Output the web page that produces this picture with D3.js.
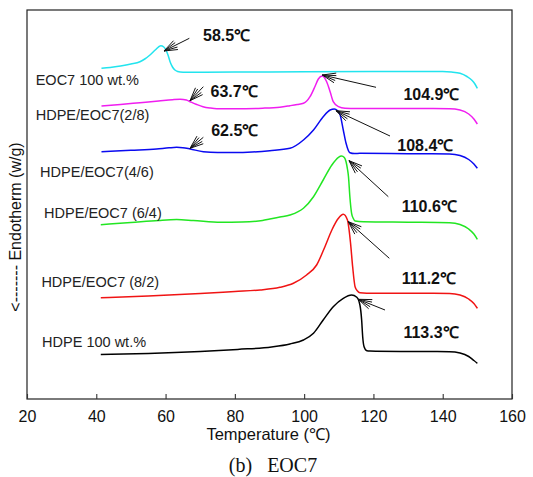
<!DOCTYPE html>
<html>
<head>
<meta charset="utf-8">
<script src="https://cdn.jsdelivr.net/npm/d3@7"></script>
<style>
  html, body { margin: 0; padding: 0; background: #fff; }
  svg { display: block; }
</style>
</head>
<body>
<div id="chart"></div>
<script>
// ---------------- DATA ----------------
const xTicks = [20, 40, 60, 80, 100, 120, 140, 160];
const xTitle = "Temperature (\u2103)";
const yTitle = "<------- Endotherm (w/g)";
const caption = "(b)   EOC7";

const seriesNames = ["EOC7 100 wt.%", "HDPE/EOC7(2/8)", "HDPE/EOC7(4/6)", "HDPE/EOC7 (6/4)", "HDPE/EOC7 (8/2)", "HDPE 100 wt.%"];
const seriesColors = ["#22e4ee", "#f01ef0", "#0a0af0", "#22e622", "#f01414", "#000000"];

// heat flow in arbitrary (offset) units
const eoc7Temp = [41.5, 44, 47, 50, 52.6, 54, 55.5, 57, 58.6, 59.5, 60.1, 60.7, 61.3, 62, 62.7, 63.5, 64.2, 66, 80, 100, 120, 140, 142.5, 145, 147, 148.5, 149.3, 150];
const eoc7Val  = [330.7, 331.5, 333, 335, 337.3, 340, 344, 349, 353.3, 352, 349, 344, 337.3, 332, 329, 327.5, 327, 326.8, 327, 327.2, 327.5, 327.5, 327, 325.7, 322.5, 318.5, 315, 310.7];

const b28Temp = [41.5, 47, 52.6, 58, 62, 64.2, 66, 67.1, 69, 70.8, 72.8, 74.8, 80, 88, 93, 95.9, 98, 99.8, 101.7, 103.1, 104.1, 105.2, 106.5, 107.5, 108.4, 109.9, 111.8, 115, 130, 142, 145, 147.5, 149, 150];
const b28Val  = [293, 294.5, 296.3, 298, 299.3, 299.7, 299, 297.3, 294.5, 292.3, 291, 290.3, 290.3, 290.8, 291.8, 293.3, 294.5, 295.7, 302.3, 312.3, 320, 323, 317.3, 307.3, 297.3, 292.3, 290.7, 290.4, 290.5, 290.3, 289, 285, 280, 275];

const b46Temp = [41.5, 50, 57.4, 61, 63.2, 65, 67.1, 70.9, 75, 80, 85, 90.1, 95.9, 99.8, 102.7, 105.5, 107.5, 108.7, 109.6, 110.4, 111.3, 112.1, 113.2, 114.5, 116.1, 130, 142, 145, 147.5, 149, 150];
const b46Val  = [247.3, 248.7, 250, 251.2, 251.7, 251.3, 250, 247.3, 246.5, 246.5, 247, 248.3, 250.7, 259, 269, 282.3, 289, 290, 288.5, 284, 269, 255.7, 246.3, 245.5, 245.7, 245.3, 245, 243.5, 239.5, 235, 230.7];

const b64Temp = [41.3, 50, 58, 63.2, 68, 75.9, 82, 88, 90.1, 93, 95.9, 99.8, 102.7, 105.5, 108, 109.9, 110.8, 111.6, 112.1, 112.5, 112.8, 113.2, 113.7, 114.2, 114.7, 117.1, 130, 142, 145, 147.5, 149, 150];
const b64Val  = [174.3, 176.5, 178.6, 179.4, 178.5, 176.7, 177, 178.5, 180, 182, 184, 190.7, 202.3, 219, 234, 241.7, 243, 241.5, 237.3, 230, 222.3, 202.3, 185.7, 180.5, 178, 177.3, 176.8, 176.3, 174.5, 170, 165, 159.7];

const b82Temp = [41.3, 55, 70, 80, 87.3, 93, 96.9, 100.7, 103.6, 106, 108, 109.9, 111.3, 112.5, 113.4, 114, 114.7, 115.4, 116.1, 120, 130, 142, 145, 147.5, 149, 150];
const b82Val  = [101.3, 103, 105.5, 107.5, 109, 111.7, 115.7, 124, 134, 152.3, 169, 180.7, 184.7, 179, 155.7, 132.3, 112.3, 108, 106.3, 105.7, 105.7, 105.5, 104, 100, 95.5, 90.7];

const hdpeTemp = [41.3, 55, 70, 80.8, 90.6, 95.9, 99.8, 102.7, 105.5, 108.4, 111.3, 113.7, 115.2, 116.1, 116.6, 116.9, 117.3, 118.1, 119, 130, 142, 145, 147.5, 149, 150];
const hdpeVal  = [44.5, 45.5, 47.5, 49.6, 52, 55, 59, 65.7, 79, 92.3, 100.7, 104, 101.7, 94, 79, 62.3, 52.3, 48.3, 48, 47.5, 47.3, 46, 42.5, 38.5, 35.7];

// peak annotations: label, point the arrow tip touches (temperature, value)
const peakLabels = ["58.5\u2103", "63.7\u2103", "62.5\u2103", "104.9\u2103", "108.4\u2103", "110.6\u2103", "111.2\u2103", "113.3\u2103"];
const peakTipTemp = [59.55, 67.06, 67.06, 105.25, 109.2, 112.95, 112.75, 115.64];
const peakTipVal  = [348, 298.3, 250.7, 324, 288.3, 238.3, 177.3, 99.7];

// ---------------- LAYOUT ----------------
const W = 533, H = 477;
const plot = { left: 27, right: 512, top: 10, bottom: 399 };
// series label placement (x px, baseline px)
const labelPos = [[35.7, 84.5], [35.7, 120], [40.1, 176.5], [44.1, 217.9], [41.4, 286.5], [42.1, 346.7]];
// arrow tail offsets and text offsets relative to arrow tip (px)
const tailOff = [[25.3, -12.7], [13.3, -14], [13.3, -11], [53.7, 12.3], [54, 25.3], [39.3, 36], [41, 36.6], [26.7, 10.7]];
const textOff = [[39, -9.6], [20.5, -3.9], [21.2, -12.5], [81.1, 25.2], [61.3, 40.4], [52.7, 51.4], [53.4, 62.4], [45.1, 38.2]];

const sans = "'Liberation Sans', Arial, Helvetica, sans-serif";

const svg = d3.select("#chart").append("svg")
  .attr("width", W).attr("height", H)
  .attr("viewBox", `0 0 ${W} ${H}`);
svg.append("rect").attr("width", W).attr("height", H).attr("fill", "#fff");

const x = d3.scaleLinear().domain([20, 160]).range([plot.left, plot.right]);
const y = d3.scaleLinear().domain([0, 389]).range([plot.bottom, plot.top]);

// frame
svg.append("rect")
  .attr("x", plot.left).attr("y", plot.top)
  .attr("width", plot.right - plot.left).attr("height", plot.bottom - plot.top)
  .attr("fill", "none").attr("stroke", "#222").attr("stroke-width", 1.2);

// bottom axis, ticks inside
const xAxis = d3.axisBottom(x).tickValues(xTicks).tickFormat(d3.format("d"))
  .tickSizeInner(-5).tickSizeOuter(0).tickPadding(12);
const gx = svg.append("g").attr("transform", `translate(0,${plot.bottom})`).call(xAxis);
gx.select(".domain").remove();
gx.selectAll(".tick line").attr("stroke", "#333").attr("stroke-width", 1.1);
gx.selectAll(".tick text").attr("font-family", sans).attr("font-size", 16).attr("fill", "#111");

// axis titles
svg.append("text")
  .attr("x", (plot.left + plot.right) / 2 - 1).attr("y", 440)
  .attr("text-anchor", "middle").attr("font-family", sans).attr("font-size", 16.5).attr("fill", "#111")
  .text(xTitle);

svg.append("text")
  .attr("transform", "translate(21,227) rotate(-90)")
  .attr("text-anchor", "middle").attr("font-family", sans).attr("font-size", 16).attr("fill", "#111")
  .text(yTitle);

svg.append("text")
  .attr("x", 273).attr("y", 472)
  .attr("text-anchor", "middle")
  .attr("font-family", "'Liberation Serif', 'Times New Roman', serif").attr("font-size", 20).attr("fill", "#111")
  .attr("xml:space", "preserve").style("white-space", "pre")
  .text(caption);

// curves
const seriesTemp = [eoc7Temp, b28Temp, b46Temp, b64Temp, b82Temp, hdpeTemp];
const seriesVal = [eoc7Val, b28Val, b46Val, b64Val, b82Val, hdpeVal];
const line = d3.line().x(d => x(d[0])).y(d => y(d[1])).curve(d3.curveMonotoneX);

seriesNames.forEach((name, i) => {
  const pts = seriesTemp[i].map((t, j) => [t, seriesVal[i][j]]);
  svg.append("path").datum(pts)
    .attr("d", line)
    .attr("fill", "none")
    .attr("stroke", seriesColors[i])
    .attr("stroke-width", 1.5)
    .attr("stroke-linejoin", "round");
  svg.append("text")
    .attr("x", labelPos[i][0]).attr("y", labelPos[i][1])
    .attr("font-family", sans).attr("font-size", 14.5).attr("fill", "#222")
    .text(name);
});

// annotations
peakLabels.forEach((lab, i) => {
  const tx = x(peakTipTemp[i]), ty = y(peakTipVal[i]);
  const ex = tx + tailOff[i][0], ey = ty + tailOff[i][1];
  const g = svg.append("g").attr("stroke", "#111").attr("stroke-width", 1);
  g.append("line").attr("x1", ex).attr("y1", ey).attr("x2", tx).attr("y2", ty);
  const ang = Math.atan2(ey - ty, ex - tx);
  [-0.36, -0.18, 0.18, 0.36].forEach(da => {
    const a = ang + da;
    g.append("line").attr("x1", tx).attr("y1", ty)
      .attr("x2", tx + 14 * Math.cos(a)).attr("y2", ty + 14 * Math.sin(a));
  });
  svg.append("text")
    .attr("x", tx + textOff[i][0]).attr("y", ty + textOff[i][1])
    .attr("font-family", sans).attr("font-size", 16).attr("font-weight", "bold").attr("fill", "#111")
    .text(lab);
});
</script>
</body>
</html>
